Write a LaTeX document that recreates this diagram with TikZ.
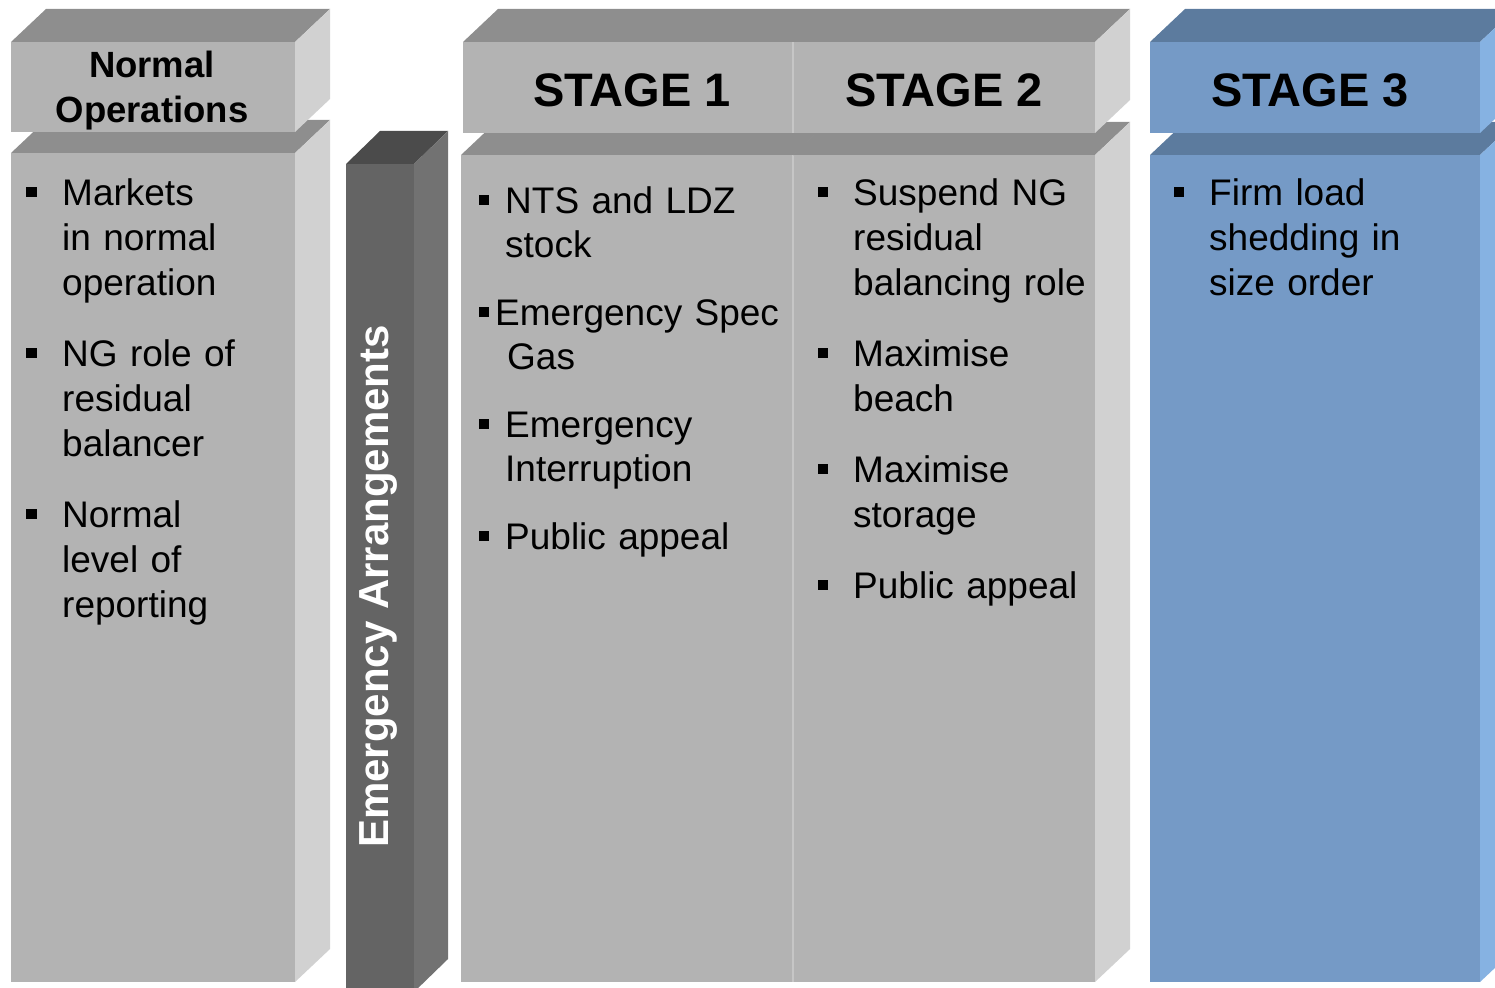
\documentclass[tikz,border=0pt]{standalone}
\usepackage{fontspec}
\setmainfont{Liberation Sans}
\definecolor{gfront}{HTML}{B3B3B3}
\definecolor{gtop}{HTML}{8E8E8E}
\definecolor{gside}{HTML}{D1D1D1}
\definecolor{dfront}{HTML}{646464}
\definecolor{dtop}{HTML}{4B4B4B}
\definecolor{dside}{HTML}{727272}
\definecolor{bfront}{HTML}{759AC6}
\definecolor{btop}{HTML}{5C7B9E}
\definecolor{bside}{HTML}{86B2E2}
\definecolor{divline}{HTML}{C6C6C6}
% #1,#2 front top-left; #3,#4 front bottom-right; #5 dx; #6 dy; #7 front; #8 top; #9 side
\newcommand\mycuboid[9]{%
  \fill[#7] (#1,#2) rectangle (#3,#4);
  \fill[#8] (#1,#2) -- (#1+#5,#2-#6) -- (#3+#5,#2-#6) -- (#3,#2) -- cycle;
  \fill[#9] (#3,#2) -- (#3+#5,#2-#6) -- (#3+#5,#4-#6) -- (#3,#4) -- cycle;
}
\begin{document}
\begin{tikzpicture}[x=1pt,y=-1pt,
  item/.style={anchor=base west, inner sep=0, text width=420pt, align=left,
    font=\fontsize{37}{45}\selectfont},
  itemone/.style={item, font=\fontsize{37}{44}\selectfont},
  head/.style={anchor=base, inner sep=0, text width=300pt, align=center,
    font=\bfseries\fontsize{36.5}{45}\selectfont},
  stagehead/.style={anchor=base, inner sep=0, font=\bfseries\fontsize{47}{55}\selectfont},
  bul/.style={fill=black, inner sep=0, minimum width=10.5pt, minimum height=10pt},
  vert/.style={rotate=90, anchor=base west, inner sep=0, text=white,
    font=\bfseries\fontsize{42}{50}\selectfont}]
\useasboundingbox (0,0) rectangle (1495,987);
\clip (0,0) rectangle (1495,987);

% bodies first (headers overlap their top faces)
\mycuboid{11}{153}{295}{982}{35}{33}{gfront}{gtop}{gside}
\mycuboid{346}{164}{414}{992}{34}{33}{dfront}{dtop}{dside}
\mycuboid{461}{155}{1095}{982}{35}{33}{gfront}{gtop}{gside}
\draw[divline, line width=1.5pt] (793,155) -- (793,982);
\draw[gfront!80!black, line width=1pt] (793,155) -- (828,122);
\mycuboid{1150}{155}{1480}{982}{35}{33}{bfront}{btop}{bside}

% headers
\mycuboid{11}{42}{295}{132}{35}{33}{gfront}{gtop}{gside}
\mycuboid{463}{42}{1095}{133}{35}{33}{gfront}{gtop}{gside}
\draw[divline, line width=1.5pt] (793,42) -- (793,133);
\mycuboid{1150}{42}{1480}{133}{35}{33}{bfront}{btop}{bside}

% headings
\node[head] (hnormal) at (152,78) {Normal\\Operations};
\node[stagehead] (hs1) at (632,107) {STAGE 1};
\node[stagehead] (hs2) at (944,107) {STAGE 2};
\node[stagehead] (hs3) at (1310,107) {STAGE 3};
\node[vert] (emerg) at (388,848) {Emergency Arrangements};

% Normal column
\node[bul] (nb1) at (31.5,192) {};
\node[item] (n1) at (62,205) {Markets\\in normal\\operation};
\node[bul] (nb2) at (31.5,353) {};
\node[item] (n2) at (62,366) {NG role of\\residual\\balancer};
\node[bul] (nb3) at (31.5,514) {};
\node[item] (n3) at (62,527) {Normal\\level of\\reporting};

% Stage 1 column
\node[bul] (ab1) at (484,200) {};
\node[itemone] (a1) at (505,213) {NTS and LDZ\\stock};
\node[bul] (ab2) at (484,312) {};
\node[itemone] (a2) at (495,325) {Emergency Spec\\\hspace*{12pt}Gas};
\node[bul] (ab3) at (484,424) {};
\node[itemone] (a3) at (505,437) {Emergency\\Interruption};
\node[bul] (ab4) at (484,536) {};
\node[itemone] (a4) at (505,549) {Public appeal};

% Stage 2 column
\node[bul] (bb1) at (823,192) {};
\node[item] (b1) at (853,205) {Suspend NG\\residual\\balancing role};
\node[bul] (bb2) at (823,353) {};
\node[item] (b2) at (853,366) {Maximise\\beach};
\node[bul] (bb3) at (823,469) {};
\node[item] (b3) at (853,482) {Maximise\\storage};
\node[bul] (bb4) at (823,585) {};
\node[item] (b4) at (853,598) {Public appeal};

% Stage 3 column
\node[bul] (cb1) at (1179,192) {};
\node[item] (c1) at (1209,205) {Firm load\\shedding in\\size order};
\end{tikzpicture}
\end{document}
